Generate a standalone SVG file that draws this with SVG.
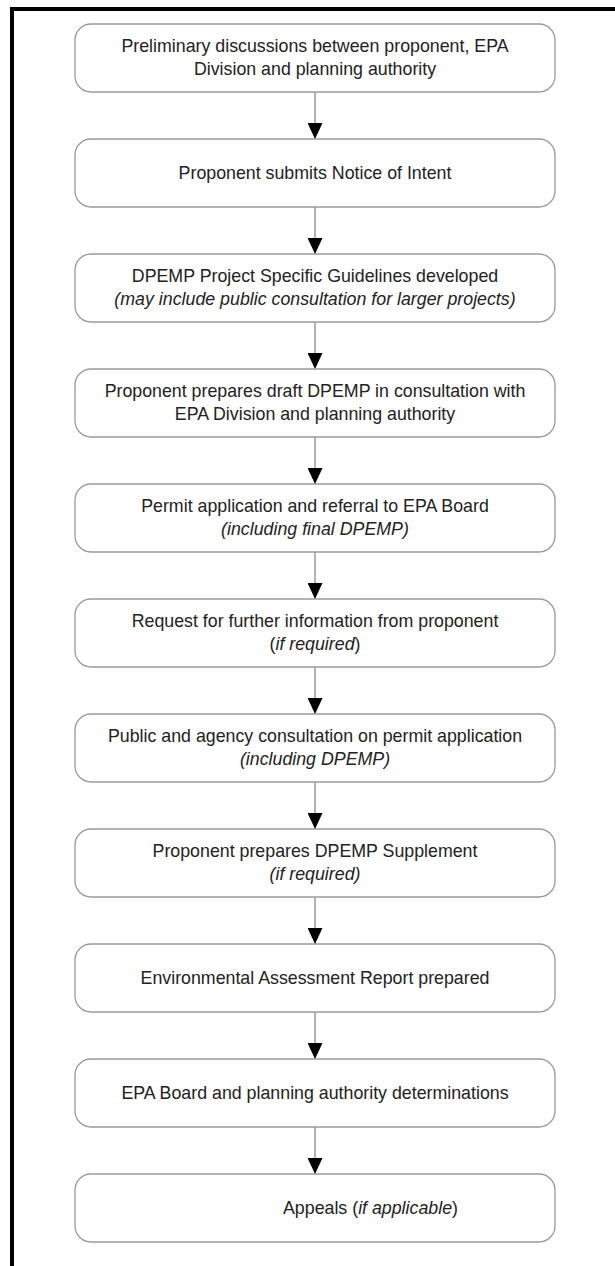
<svg xmlns="http://www.w3.org/2000/svg" width="615" height="1266" viewBox="0 0 615 1266">
<style>
.box{fill:#fff;stroke:#9a9a9a;stroke-width:1.3}
.t{font-family:"Liberation Sans",Arial,sans-serif;font-size:17.8px;fill:#222;text-anchor:middle}
.i{font-style:italic}
.c{stroke:#8a8a8a;stroke-width:1.3;fill:none;marker-end:url(#ah)}
.frame{stroke:#000;stroke-width:4;fill:none}
</style>
<defs>
<marker id="ah" markerUnits="userSpaceOnUse" markerWidth="16" markerHeight="15" refX="16" refY="7.5" orient="auto">
<path d="M0,0 L16,7.5 L0,15 z" fill="#000"/>
</marker>
</defs>
<rect width="615" height="1266" fill="#fff"/>
<path class="frame" d="M12,1266 V9 H615"/>
<g id="connectors">
<line class="c" x1="315" y1="92" x2="315" y2="139"/>
<line class="c" x1="315" y1="207" x2="315" y2="254"/>
<line class="c" x1="315" y1="322" x2="315" y2="369"/>
<line class="c" x1="315" y1="437" x2="315" y2="484"/>
<line class="c" x1="315" y1="552" x2="315" y2="599"/>
<line class="c" x1="315" y1="667" x2="315" y2="714"/>
<line class="c" x1="315" y1="782" x2="315" y2="829"/>
<line class="c" x1="315" y1="897" x2="315" y2="944"/>
<line class="c" x1="315" y1="1012" x2="315" y2="1059"/>
<line class="c" x1="315" y1="1127" x2="315" y2="1174"/>
</g>
<g id="n1"><rect class="box" x="75" y="24" width="480" height="68" rx="16"/>
<text class="t" x="315" y="52">Preliminary discussions between proponent, EPA</text>
<text class="t" x="315" y="75">Division and planning authority</text></g>
<g id="n2"><rect class="box" x="75" y="139" width="480" height="68" rx="16"/>
<text class="t" x="315" y="179">Proponent submits Notice of Intent</text></g>
<g id="n3"><rect class="box" x="75" y="254" width="480" height="68" rx="16"/>
<text class="t" x="315" y="282">DPEMP Project Specific Guidelines developed</text>
<text class="t i" x="315" y="305">(may include public consultation for larger projects)</text></g>
<g id="n4"><rect class="box" x="75" y="369" width="480" height="68" rx="16"/>
<text class="t" x="315" y="397">Proponent prepares draft DPEMP in consultation with</text>
<text class="t" x="315" y="420">EPA Division and planning authority</text></g>
<g id="n5"><rect class="box" x="75" y="484" width="480" height="68" rx="16"/>
<text class="t" x="315" y="512">Permit application and referral to EPA Board</text>
<text class="t i" x="315" y="535">(including final DPEMP)</text></g>
<g id="n6"><rect class="box" x="75" y="599" width="480" height="68" rx="16"/>
<text class="t" x="315" y="627">Request for further information from proponent</text>
<text class="t" x="315" y="650">(<tspan class="i">if required</tspan>)</text></g>
<g id="n7"><rect class="box" x="75" y="714" width="480" height="68" rx="16"/>
<text class="t" x="315" y="742">Public and agency consultation on permit application</text>
<text class="t i" x="315" y="765">(including DPEMP)</text></g>
<g id="n8"><rect class="box" x="75" y="829" width="480" height="68" rx="16"/>
<text class="t" x="315" y="857">Proponent prepares DPEMP Supplement</text>
<text class="t i" x="315" y="880">(if required)</text></g>
<g id="n9"><rect class="box" x="75" y="944" width="480" height="68" rx="16"/>
<text class="t" x="315" y="984">Environmental Assessment Report prepared</text></g>
<g id="n10"><rect class="box" x="75" y="1059" width="480" height="68" rx="16"/>
<text class="t" x="315" y="1099">EPA Board and planning authority determinations</text></g>
<g id="n11"><rect class="box" x="75" y="1174" width="480" height="68" rx="16"/>
<text class="t" x="283" y="1214" style="text-anchor:start">Appeals (<tspan class="i">if applicable</tspan>)</text></g>
</svg>
